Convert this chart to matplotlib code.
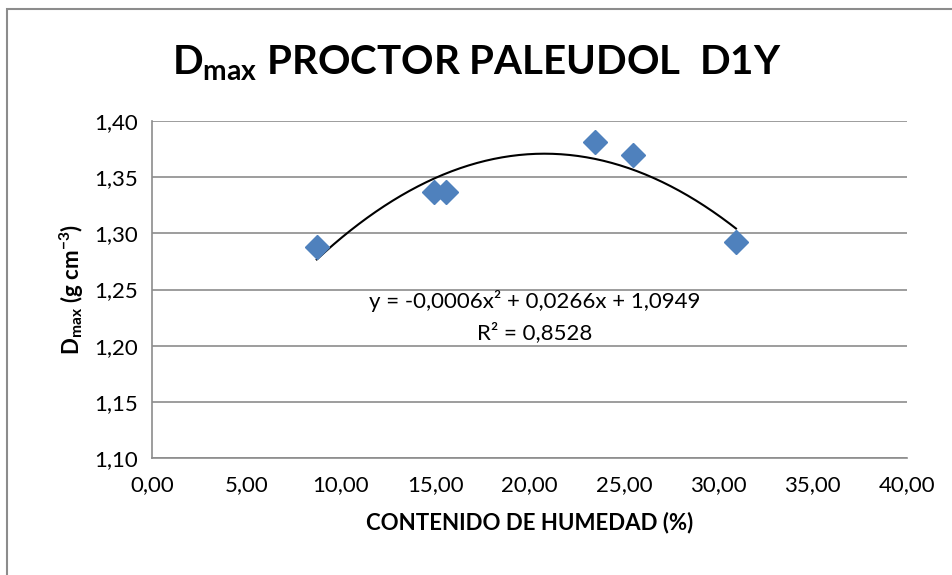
import matplotlib.pyplot as plt
import numpy as np
from matplotlib.patches import Rectangle

plt.rcParams['font.family'] = ['Lato', 'DejaVu Sans']
plt.rcParams['mathtext.fontset'] = 'custom'
plt.rcParams['mathtext.rm'] = 'Lato'
plt.rcParams['mathtext.bf'] = 'Lato:bold'

# data
humedad = [8.73, 14.94, 15.60, 23.47, 25.47, 30.94]
dmax = [1.288, 1.337, 1.337, 1.381, 1.370, 1.2925]
xticks = [0, 5, 10, 15, 20, 25, 30, 35, 40]
yticks = [1.10, 1.15, 1.20, 1.25, 1.30, 1.35, 1.40]

fig = plt.figure(figsize=(9.53, 5.75), dpi=100)
ax = fig.add_axes([0.1595, 0.203, 0.7922, 0.587])

# outer chart frame
fig.patches.append(Rectangle((0.007, -0.05), 1.1, 1.034, transform=fig.transFigure,
                             fill=False, edgecolor='#8c8c8c', lw=1.5))

ax.plot(humedad, dmax, 'D', color='#4F81BD', markersize=12, zorder=3, clip_on=False)

# polynomial trendline (order 2)
coef = np.polyfit(humedad, dmax, 2)
xs = np.linspace(min(humedad), max(humedad), 200)
ax.plot(xs, np.polyval(coef, xs), color='black', lw=1.5, zorder=2)

ax.set_xlim(0, 40)
ax.set_ylim(1.10, 1.40)
ax.set_xticks(xticks)
ax.set_yticks(yticks)
ax.set_xticklabels([f"{v:.2f}".replace('.', ',') for v in xticks], fontsize=16)
ax.set_yticklabels([f"{v:.2f}".replace('.', ',') for v in yticks], fontsize=16)
ax.tick_params(length=0, pad=10)
ax.tick_params(axis='x', pad=12)
ax.grid(axis='y', color='#8c8c8c', lw=1.2)
ax.set_axisbelow(True)
for s in ['top', 'right']:
    ax.spines[s].set_visible(False)
for s in ['left', 'bottom']:
    ax.spines[s].set_color('#8c8c8c')
    ax.spines[s].set_linewidth(1.2)

ax.set_xlabel('CONTENIDO DE HUMEDAD (%)', fontsize=16, fontweight='bold', labelpad=12)
ax.set_ylabel(r'$\mathbf{D_{max}}$ (g cm$^{\mathbf{-3}}$)', fontsize=16, fontweight='bold', labelpad=6)

ax.text(0.507, 0.42, 'y = -0,0006x² + 0,0266x + 1,0949\nR² = 0,8528', transform=ax.transAxes,
        ha='center', va='center', fontsize=16, linespacing=1.6)

fig.text(0.5, 0.89, r'$\mathbf{D_{max}}$ PROCTOR PALEUDOL  D1Y', ha='center', va='center',
         fontsize=29, fontweight='bold')

fig.savefig('out.png', dpi=100)
